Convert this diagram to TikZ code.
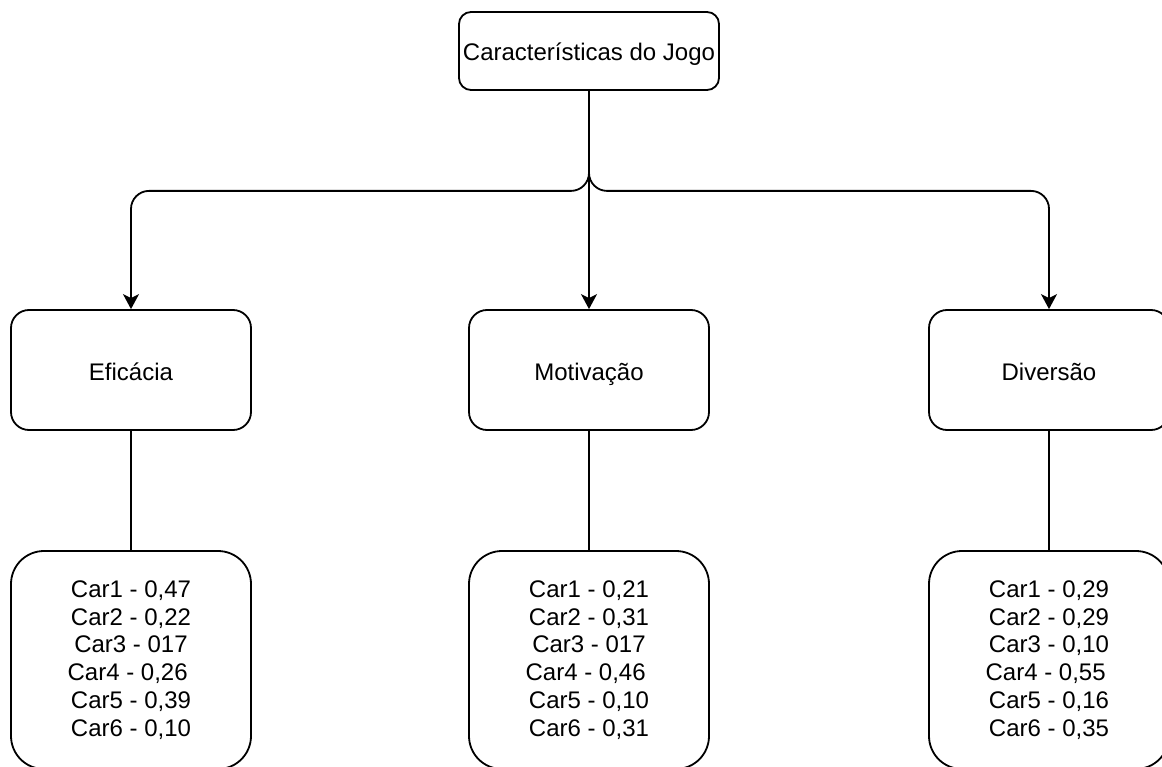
\documentclass[tikz,border=0pt]{standalone}
\usepackage{fontspec}
\setmainfont{Liberation Sans}
\usetikzlibrary{arrows.meta}
\begin{document}
\begin{tikzpicture}[x=1pt,y=-1pt,
  box/.style={draw=black, line width=1.8pt, rounded corners=#1, inner sep=0pt,
    align=center, font=\fontsize{24}{27.8}\selectfont},
  box/.default=18pt,
  oneline/.style={text height=20pt, text depth=0pt},
  link/.style={draw=black, line width=1.8pt, rounded corners=18pt,
    -{Stealth[length=15pt,width=16pt,inset=4pt]}},
  plain/.style={draw=black, line width=1.8pt}]
  \useasboundingbox (0,0) rectangle (1162,767);

  % root
  \node[box=12pt, oneline, minimum width=260pt, minimum height=78pt] (root) at (589,51) {Características do Jogo};

  % criteria
  \node[box, oneline, minimum width=240pt, minimum height=120pt] (efi) at (131,370) {Eficácia};
  \node[box, oneline, minimum width=240pt, minimum height=120pt] (mot) at (589,370) {Motivação};
  \node[box, oneline, minimum width=240pt, minimum height=120pt] (div) at (1049,370) {Diversão};

  % scores per criterion
  \node[box=33pt, minimum width=240pt, minimum height=218pt] (efis) at (131,660)
    {Car1 - 0,47\\Car2 - 0,22\\Car3 - 017\\Car4 - 0,26\kern0.28em\\Car5 - 0,39\\Car6 - 0,10};
  \node[box=33pt, minimum width=240pt, minimum height=218pt] (mots) at (589,660)
    {Car1 - 0,21\\Car2 - 0,31\\Car3 - 017\\Car4 - 0,46\kern0.28em\\Car5 - 0,10\\Car6 - 0,31};
  \node[box=33pt, minimum width=240pt, minimum height=218pt] (divs) at (1049,660)
    {Car1 - 0,29\\Car2 - 0,29\\Car3 - 0,10\\Car4 - 0,55\kern0.28em\\Car5 - 0,16\\Car6 - 0,35};

  % connectors
  \draw[link] (root.south) -- ++(0,100) -| (efi.north);
  \draw[link] (root.south) -- ++(0,100) -| (div.north);
  \draw[link] (root.south) -- (mot.north);

  \draw[plain] (efi.south) -- (efis.north);
  \draw[plain] (mot.south) -- (mots.north);
  \draw[plain] (div.south) -- (divs.north);
\end{tikzpicture}
\end{document}
